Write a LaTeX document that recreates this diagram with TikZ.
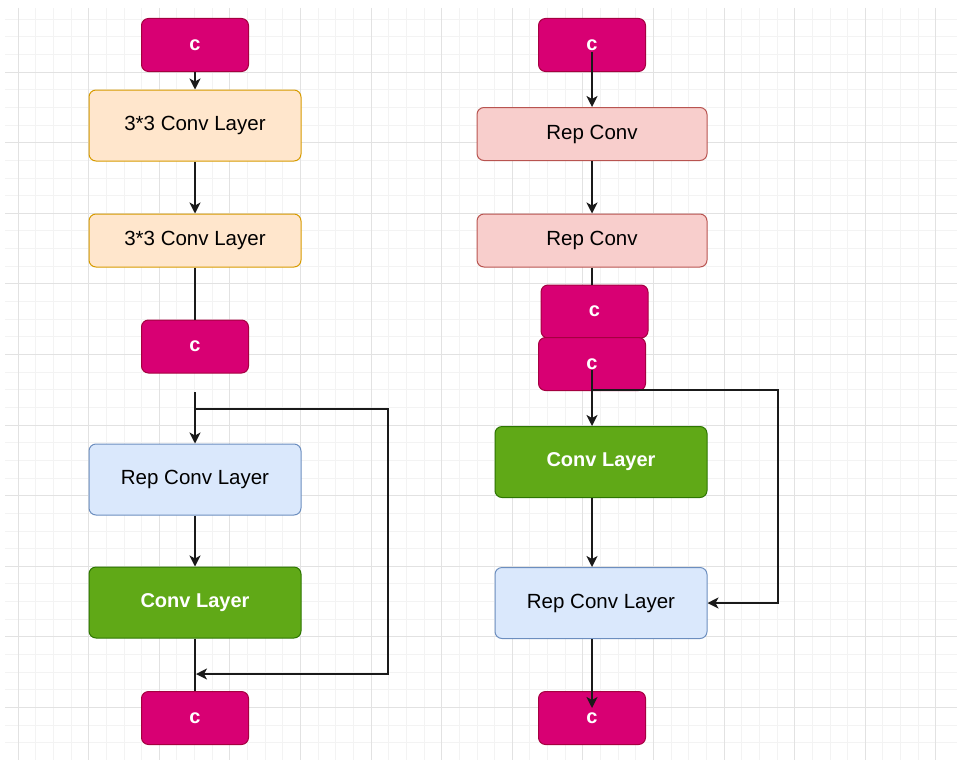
\documentclass[tikz,border=0pt]{standalone}
\usepackage{fontspec}
\setmainfont{Liberation Sans}
\usetikzlibrary{arrows.meta, calc}
\definecolor{cmag}{HTML}{D80073}
\definecolor{cmagd}{HTML}{A50040}
\definecolor{corg}{HTML}{FFE6CC}
\definecolor{corgd}{HTML}{D79B00}
\definecolor{cred}{HTML}{F8CECC}
\definecolor{credd}{HTML}{B85450}
\definecolor{cblu}{HTML}{DAE8FC}
\definecolor{cblud}{HTML}{6C8EBF}
\definecolor{cgrn}{HTML}{60A917}
\definecolor{cgrnd}{HTML}{2D7600}
\definecolor{gridmin}{HTML}{F3F3F3}
\definecolor{gridmaj}{HTML}{E2E2E2}
\definecolor{wirec}{HTML}{1A1A1A}
\tikzset{box/.style={rounded corners=7pt, line width=1pt, inner sep=0pt, font=\fontsize{20.5}{22}\selectfont},
cbox/.style={box, fill=cmag, draw=cmagd, minimum width=107pt, minimum height=53pt, text=white, font=\fontsize{20}{22}\selectfont\bfseries},
kbox/.style={box, fill=corg, draw=corgd, minimum width=212pt},
pbox/.style={box, fill=cred, draw=credd, minimum width=230pt, minimum height=53pt},
rbox/.style={box, fill=cblu, draw=cblud, minimum width=212pt, minimum height=71pt},
gbox/.style={box, fill=cgrn, draw=cgrnd, minimum width=212pt, minimum height=71pt, text=white, font=\fontsize{20}{22}\selectfont\bfseries},
link/.style={wirec, line width=1.7pt, -{Stealth[length=11pt, width=11pt, inset=3pt]}},
wire/.style={wirec, line width=1.7pt}}

\begin{document}
\begin{tikzpicture}[x=1pt, y=-1pt]
\useasboundingbox (0,0) rectangle (957,760);
% grid
\foreach \i in {1,...,53}
    \draw[gridmin, line width=0.8pt] (18+17.65*\i-17.65,8) -- (18+17.65*\i-17.65,760);
\foreach \i in {0,...,41}
    \draw[gridmin, line width=0.8pt] (5,19.05+17.65*\i) -- (957,19.05+17.65*\i);
\foreach \i in {0,...,13}
    \draw[gridmaj, line width=1pt] (18+70.6*\i,8) -- (18+70.6*\i,760);
\foreach \i in {1,...,10}
    \draw[gridmaj, line width=1pt] (5,1.4+70.6*\i) -- (957,1.4+70.6*\i);

% left column
\node[cbox] (c1) at (195,45) {c};
\node[kbox, minimum height=71pt] (k1) at (195,125.5) {3*3 Conv Layer};
\node[kbox, minimum height=53pt] (k2) at (195,240.5) {3*3 Conv Layer};
\node[cbox] (c2) at (195,346.5) {c};
\node[rbox] (r1) at (195,479.5) {Rep Conv Layer};
\node[gbox] (g1) at (195,602.5) {Conv Layer};
\node[cbox] (c3) at (195,718) {c};
\coordinate (s1) at (195,392);
\coordinate (s2) at (195,409);
\coordinate (s3) at (388,409);
\coordinate (s4) at (388,674);
\coordinate (s5) at (196,674);

\draw[link] (c1.south) -- (k1.north);
\draw[link] (k1.south) -- (k2.north);
\draw[wire] (k2.south) -- (c2.north);
\draw[link] (s1) -- (r1.north);
\draw[link] (s2) -- (s3) -- (s4) -- (s5);
\draw[link] (r1.south) -- (g1.north);
\draw[wire] (g1.south) -- (c3.north);

% right column
\node[cbox] (d1) at (592,45) {c};
\node[pbox] (p1) at (592,134) {Rep Conv};
\node[pbox] (p2) at (592,240.5) {Rep Conv};
\node[cbox] (d2) at (594.5,311.5) {c};
\node[cbox] (d3) at (592,364) {c};
\node[gbox] (g2) at (601,462) {Conv Layer};
\node[rbox] (r2) at (601,603) {Rep Conv Layer};
\node[cbox] (d4) at (592,718) {c};
\coordinate (t1) at (592,52);
\coordinate (t2) at (592,370);
\coordinate (t3) at (592,390);
\coordinate (t4) at (778,390);
\coordinate (t5) at (778,603);
\coordinate (t6) at (592,708);

\draw[link] (t1) -- (p1.north);
\draw[link] (p1.south) -- (p2.north);
\draw[wire] (p2.south) -- (p2.south |- d2.north);
\draw[link] (t2) -- (t2 |- g2.north);
\draw[link] (t3) -- (t4) -- (t5) -- (r2.east);
\draw[link] (t2 |- g2.south) -- (t2 |- r2.north);
\draw[link] (t2 |- r2.south) -- (t6);
\end{tikzpicture}
\end{document}
